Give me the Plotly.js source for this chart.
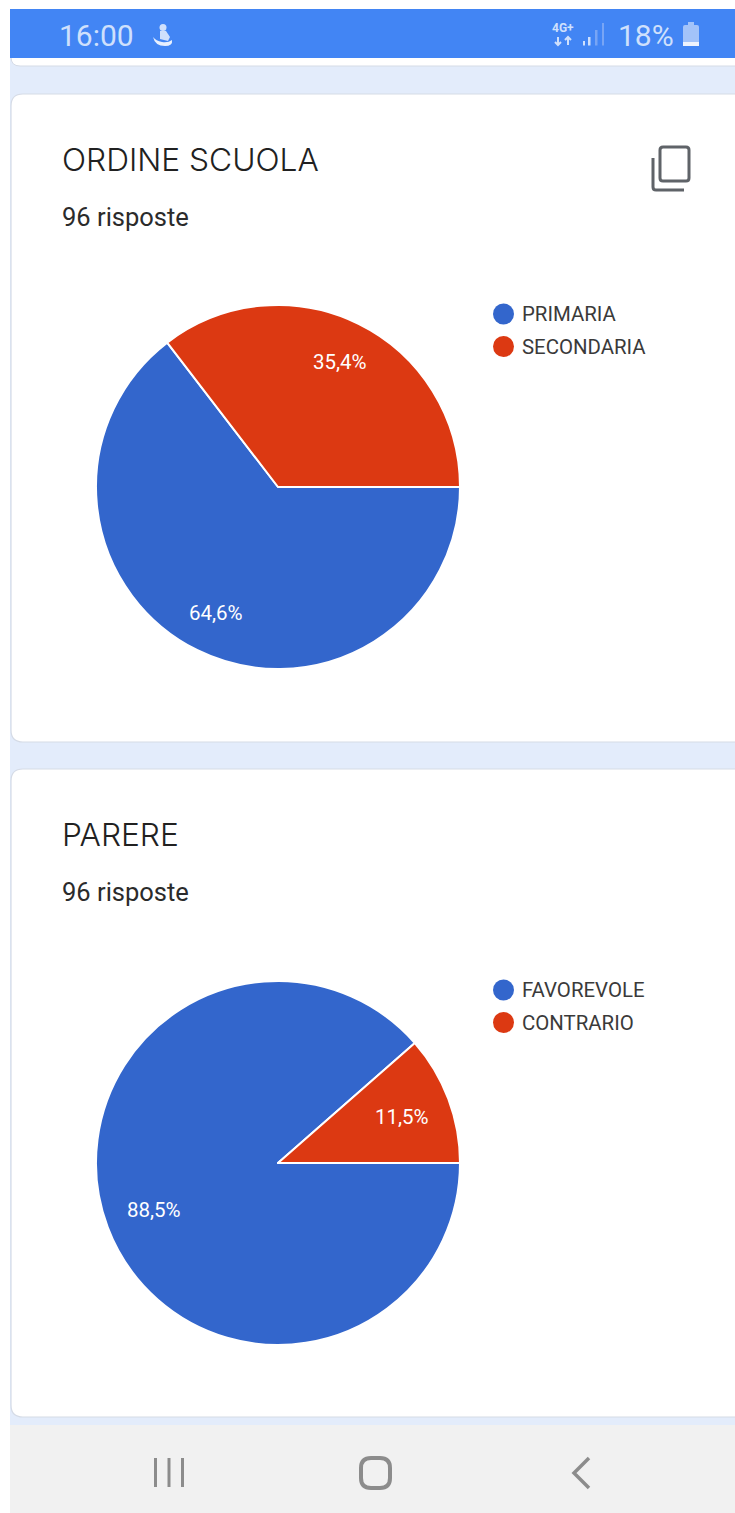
<!DOCTYPE html>
<html><head><meta charset="utf-8">
<script src="https://cdn.plot.ly/plotly-3.0.1.min.js"></script>
<style>html,body{margin:0;padding:0;background:#fff;overflow:hidden}#c{width:735px;height:1513px}</style>
</head><body><div id="c"></div>
<script>
const titles = ['ORDINE SCUOLA', 'PARERE'];
const responses = ['96 risposte', '96 risposte'];
const labelsA = ['PRIMARIA', 'SECONDARIA'];
const valuesA = [62, 34];
const labelsB = ['FAVOREVOLE', 'CONTRARIO'];
const valuesB = [85, 11];
const sliceColors = ['#3366cc', '#dc3912'];

const W = 735, H = 1513;
const px = x => x / W, py = y => 1 - y / H;
const shapes = [], annotations = [];
const rect = (x0, y0, x1, y1, fill) => shapes.push({type:'rect', xref:'paper', yref:'paper', layer:'below',
  x0:px(x0), x1:px(x1), y0:py(y0), y1:py(y1), fillcolor:fill, line:{width:0}});
const path = (pts, o) => shapes.push(Object.assign({type:'path', xref:'paper', yref:'paper', layer:'below',
  path: pts.map(p => typeof p === 'string' ? p : (px(p[0]) + ' ' + py(p[1]))).join(' ')}, o));
const text = (t, x, y, size, color, family, anchor, weight) => annotations.push({text:t, xref:'paper', yref:'paper',
  x:px(x), y:py(y), xanchor:anchor || 'left', yanchor:'middle', showarrow:false, align:'left', borderpad:0, borderwidth:0,
  font:{size:size, color:color, family:family, weight:weight || 400}});
const roundRect = (x0, y0, x1, y1, r) => ['M',[x0+r,y0],'L',[x1-r,y0],'Q',[x1,y0],[x1,y0+r],'L',[x1,y1-r],'Q',[x1,y1],[x1-r,y1],'L',[x0+r,y1],'Q',[x0,y1],[x0,y1-r],'L',[x0,y0+r],'Q',[x0,y0],[x0+r,y0],'Z'];

// page
rect(10, 9, W, 1425, '#e3ecfb');
rect(10, 1425, W, 1513, '#f1f1f1');
// previous card remnant
path(roundRect(11, 30, 760, 66, 9), {fillcolor:'#ffffff', line:{color:'#d5dbe6', width:1}});
// status bar
rect(10, 9, W, 58, '#4285f4');
// cards
const cardTops = [94, 769];
cardTops.forEach(t => path(roundRect(11, t, 770, t + 648, 12), {fillcolor:'#ffffff', line:{color:'#d5dbe6', width:1.2}}));

const sans = 'Roboto, sans-serif', head = 'Inter, sans-serif';
// status bar content
const barText = '#cfe0fc';
text('16:00', 59, 35, 30, barText, sans);
shapes.push({type:'circle', xref:'paper', yref:'paper', layer:'below', x0:px(159.5), x1:px(166.5), y0:py(31), y1:py(24), fillcolor:barText, line:{width:0}});
path(['M',[160,31],'L',[166,31],'L',[170,37],'L',[168,41],'L',[160,39],'Z'], {fillcolor:barText, line:{width:0}});
path(['M',[153,37],'Q',[155,46],[165,46],'Q',[173,46],[172,40],'Q',[168,43],[162,42],'Q',[156,41],[153,37],'Z'], {fillcolor:'#e8f0fe', line:{width:0}});
text('4G+', 562.5, 28, 12, barText, sans, 'center', 700);
const arrowW = 2;
path(['M',[558,37],'L',[558,45],'M',[555,42],'L',[558,45],'L',[561,42]], {line:{color:barText, width:arrowW}, fillcolor:'rgba(0,0,0,0)'});
path(['M',[568,45],'L',[568,37],'M',[565,40],'L',[568,37],'L',[571,40]], {line:{color:barText, width:arrowW}, fillcolor:'rgba(0,0,0,0)'});
[[583,41,2],[588,37,2.5],[595,30,2.5],[602,23,2]].forEach((b,i) => rect(b[0], b[1], b[0]+b[2], 45.5, i < 2 ? barText : '#78a5f5'));
text('18%', 618, 35, 30, barText, sans);
path(roundRect(683, 25, 699, 46, 2), {fillcolor:'#a3c3f9', line:{width:0}});
rect(688, 22, 694, 25, '#a3c3f9');
rect(683, 42, 699, 46, '#eef3fd');

// card text
titles.forEach((t, i) => {
  text(t, 62, cardTops[i] + 65, 31.7, '#212121', head, 'left', 300);
  text(responses[i], 62, cardTops[i] + 122.5, 25.5, '#2b2b2b', sans);
});

// copy icon
const iconC = '#5f6368';
path(roundRect(660, 147, 689, 181, 3), {line:{color:iconC, width:3}, fillcolor:'rgba(0,0,0,0)'});
path(['M',[653,158],'L',[653,187],'Q',[653,190],[656,190],'L',[684,190]], {line:{color:iconC, width:3}, fillcolor:'rgba(0,0,0,0)'});

// pies
const R = 182, cx = 278, cys = [487, 1163], labelRadius = [140, 133];
const domain = cy => ({x:[px(cx-R), px(cx+R)], y:[py(cy+R), py(cy-R)]});
const series = [[labelsA, valuesA], [labelsB, valuesB]];
const data = series.map((s, i) => ({
  type:'pie', labels:s[0], values:s[1], sort:false, direction:'clockwise', rotation:90,
  textinfo:'none', hoverinfo:'label+percent', marker:{colors:sliceColors, line:{color:'#ffffff', width:2}},
  domain:domain(cys[i]), showlegend:false
}));

series.forEach((s, i) => {
  const total = s[1].reduce((a, b) => a + b, 0);
  let acc = 0;
  s[1].forEach((v, j) => {
    const a = (acc + v / 2) / total * 2 * Math.PI; acc += v;
    const pct = (v / total * 100).toFixed(1).replace('.', ',') + '%';
    annotations.push({text:pct, xref:'paper', yref:'paper', showarrow:false, xanchor:'center', yanchor:'middle',
      x:px(cx + labelRadius[i] * Math.cos(a)), y:py(cys[i] + 0.5 + labelRadius[i] * Math.sin(a)),
      font:{size:20.5, color:'#ffffff', family:sans}});
    const ly = cys[i] - 173 + j * 32.5;
    shapes.push({type:'circle', xref:'paper', yref:'paper', layer:'below', x0:px(493), x1:px(514), y0:py(ly+10.5), y1:py(ly-10.5), fillcolor:sliceColors[j], line:{width:0}});
    text(s[0][j], 522, ly + 0.5, 20.4, '#3a3a3a', sans);
  });
});

// nav bar
const navC = '#8c8c8c';
[155.5, 169, 182.5].forEach(x => path(['M',[x,1458],'L',[x,1487]], {line:{color:navC, width:3}}));
path(roundRect(361, 1458, 390, 1488, 10), {line:{color:navC, width:4}, fillcolor:'rgba(0,0,0,0)'});
path(['M',[589,1458],'L',[574,1473],'L',[589,1488]], {line:{color:navC, width:3.5}, fillcolor:'rgba(0,0,0,0)'});

Plotly.newPlot('c', data, {
  width:W, height:H, margin:{l:0, r:0, t:0, b:0}, paper_bgcolor:'#ffffff', showlegend:false,
  shapes:shapes, annotations:annotations
}, {displayModeBar:false, staticPlot:true});
</script></body></html>
